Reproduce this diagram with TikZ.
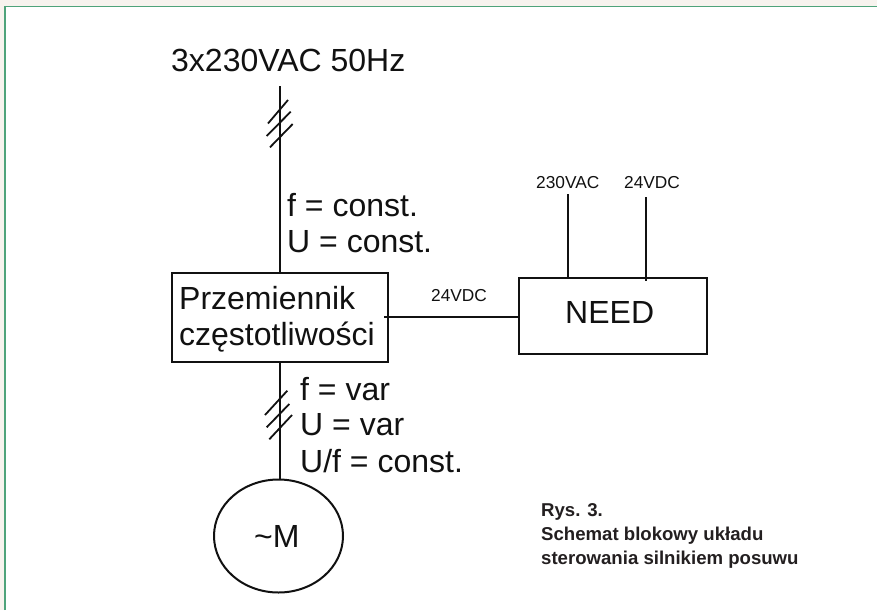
\documentclass[tikz,border=0pt]{standalone}
\usepackage{fontspec}
\usetikzlibrary{shapes.geometric}
\setmainfont{Liberation Sans}
\definecolor{bgout}{HTML}{F7F3EE}
\definecolor{frameg}{HTML}{4FA37A}
\definecolor{capt}{HTML}{231F20}
\definecolor{ink}{HTML}{111111}
\tikzset{
  wire/.style={draw=ink,line width=2.1pt},
  tick/.style={draw=ink,line width=1.8pt},
  boxed/.style={draw=ink,line width=2.3pt,inner sep=0pt,minimum width=#1},
  lab/.style={anchor=base west,inner sep=0pt,text=ink},
  big/.style={font=\fontsize{32}{32}\selectfont},
  small/.style={font=\fontsize{17.3}{17.3}\selectfont},
  capn/.style={text=capt,font=\bfseries\fontsize{18.6}{18.6}\selectfont},
}
\begin{document}
\begin{tikzpicture}[x=1pt,y=-1pt]
\useasboundingbox (0,0) rectangle (877,610);
\fill[bgout] (0,0) rectangle (877,610);
\fill[white] (5,6.5) rectangle (877,610);
\draw[frameg,line width=1.5pt] (5,610) -- (5,6.5) -- (877,6.5);

\node[boxed=216pt,minimum height=89pt] (conv) at (279.7,317.5) {};
\node[boxed=187.4pt,minimum height=76pt] (need) at (613,316) {};
\node[draw=ink,line width=2pt,ellipse,minimum width=129pt,minimum height=113pt,inner sep=0pt] (motor) at (278.5,536) {};
\coordinate (mains) at (279.7,86);
\coordinate (acin) at (567.7,194);
\coordinate (dcin) at (645.7,197);
\coordinate (dcend) at (645.7,281);
\coordinate (convout) at (384,316.7);

\draw[wire] (mains) -- (mains |- conv.north);
\draw[wire] (mains |- conv.south) -- (mains |- motor.north);
\draw[wire] (acin) -- (acin |- need.north);
\draw[wire] (dcin) -- (dcend);
\draw[wire,line width=1.7pt] (convout) -- (convout -| need.west);

\draw[tick] (268,123.5) -- (288,100);
\draw[tick] (266.7,136) -- (290.7,111.7);
\draw[tick] (270,147.3) -- (292.7,124);
\draw[tick] (265,415) -- (287.3,390.7);
\draw[tick] (266.7,427.3) -- (289.3,404);
\draw[tick] (269.3,439.3) -- (292,415);

\node[lab,big] (title) at (171,71.5) {3x230VAC 50Hz};
\node[lab,big] (f1) at (287,216) {f = const.};
\node[lab,big] (u1) at (287,252.5) {U = const.};
\node[lab,big] (p1) at (179,309) {Przemiennik};
\node[lab,big] (p2) at (179,345) {częstotliwości};
\node[lab,big] (f2) at (300,400) {f = var};
\node[lab,big] (u2) at (300,435.5) {U = var};
\node[lab,big] (uf) at (300,472) {U/f = const.};
\node[lab,big] (mm) at (254,547.7) {\char`\~M};
\node[lab,big] (nd) at (565,323.7) {NEED};
\node[lab,small] (v1) at (536,188.5) {230VAC};
\node[lab,small] (v2) at (624,188.5) {24VDC};
\node[lab,small] (v3) at (431,301.5) {24VDC};
\node[lab,capn] (c1) at (541,516.5) {Rys. 3.};
\node[lab,capn] (c2) at (541,540.5) {Schemat blokowy układu};
\node[lab,capn] (c3) at (541,564.5) {sterowania silnikiem posuwu};
\end{tikzpicture}
\end{document}
